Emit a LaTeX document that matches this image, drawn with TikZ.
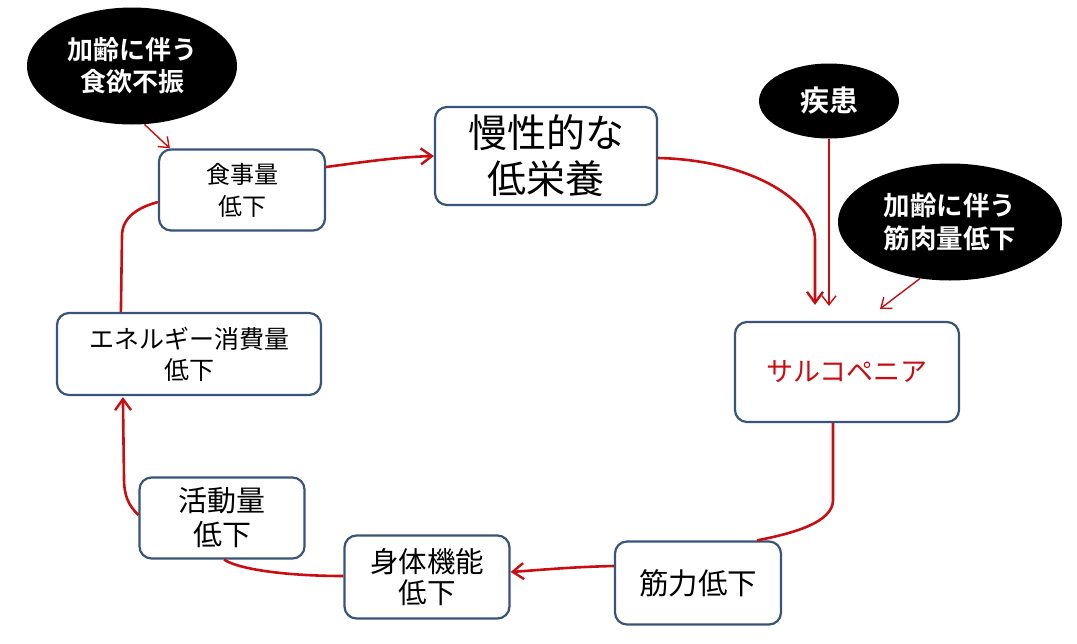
\documentclass[tikz,border=0pt]{standalone}
\usepackage{fontspec}
\setmainfont{Noto Sans CJK JP}[BoldFont={* Bold}]
\usetikzlibrary{arrows.meta,shapes.geometric,calc}
\definecolor{boxline}{RGB}{56,84,120}
\definecolor{cyclered}{RGB}{200,14,18}
\tikzset{
  boxnode/.style={draw=boxline, line width=2.2pt, rounded corners=12pt, fill=white, align=center, inner sep=0pt},
  blob/.style={ellipse, fill=black, text=white, align=center, inner sep=0pt, font=\bfseries\fontsize{26}{32}\selectfont},
  thickred/.style={draw=cyclered, line width=2.6pt},
  thinred/.style={draw=cyclered, line width=1.4pt},
  bigtip/.style={-{Straight Barb[length=11pt,width=16pt,line width=2.4pt]}},
  smalltip/.style={-{Straight Barb[length=9pt,width=14pt,line width=1.4pt]}},
}
\begin{document}
\begin{tikzpicture}[x=1pt,y=-1pt]
\useasboundingbox (0,0) rectangle (1077,643);
% nodes
\node[blob, minimum width=210pt, minimum height=117pt] (e1) at (132,66) {加齢に伴う\\食欲不振};
\node[blob, minimum width=140pt, minimum height=75pt, font=\bfseries\fontsize{29}{32}\selectfont] (shikkan) at (829,101) {疾患};
\node[blob, minimum width=224pt, minimum height=117pt, font=\bfseries\fontsize{26.5}{33}\selectfont] (kin) at (950,222) {加齢に伴う\\筋肉量低下};
\node[boxnode, minimum width=166pt, minimum height=81pt, font=\fontsize{24}{32}\selectfont] (shoku) at (242,190) {食事量\\低下};
\node[boxnode, minimum width=222pt, minimum height=98pt, font=\fontsize{39}{46}\selectfont] (man) at (546,156) {慢性的な\\低栄養};
\node[boxnode, minimum width=224pt, minimum height=100pt, text=cyclered, font=\fontsize{27}{32}\selectfont] (sarc) at (847,372) {サルコペニア};
\node[boxnode, minimum width=166pt, minimum height=83pt, font=\fontsize{29.5}{34}\selectfont] (kinryoku) at (698,583) {筋力低下};
\node[boxnode, minimum width=165pt, minimum height=83pt, font=\fontsize{28.5}{31}\selectfont] (shintai) at (427,577) {身体機能\\低下};
\node[boxnode, minimum width=165pt, minimum height=81pt, font=\fontsize{29}{34}\selectfont] (katsudo) at (222,518) {活動量\\低下};
\node[boxnode, minimum width=264pt, minimum height=82pt, font=\fontsize{25}{31}\selectfont] (ene) at (189,354) {エネルギー消費量\\低下};
% helper coordinates
\coordinate (t1) at ($(shoku.north west)+(12,0)$);
\coordinate (s2) at ($(shoku.east)+(0,-23)$);
\coordinate (s3) at ($(man.east)+(0,2)$);
\coordinate (t3) at ($(sarc.north)+(-32,-16)$);
\coordinate (t4) at ($(sarc.north)+(-18,-15)$);
\coordinate (t5) at ($(sarc.north)+(33,-12)$);
\coordinate (s6) at ($(sarc.south)+(-14,0)$);
\coordinate (t6) at ($(kinryoku.north)+(59,0)$);
\coordinate (s7) at ($(kinryoku.west)+(0,-17)$);
\coordinate (t7) at ($(shintai.east)+(0,-5)$);
\coordinate (s8) at ($(shintai.west)+(0,-1)$);
\coordinate (t8) at ($(katsudo.south)+(2,0)$);
\coordinate (s9) at ($(katsudo.west)+(0,-3)$);
\coordinate (t9) at ($(ene.south west)+(67,1)$);
\coordinate (s10) at ($(ene.north west)+(65,0)$);
\coordinate (t10) at ($(shoku.west)+(0,12)$);
% connectors
\draw[thinred, smalltip] (e1.-78) -- (t1);
\draw[thickred, bigtip] (s2) .. controls (370,161) and (400,157) .. (man.west);
\draw[thickred, bigtip] (s3) .. controls (750,160) and (815,200) .. (815,240) -- (t3);
\draw[thinred, smalltip] (shikkan.south) -- (t4);
\draw[thinred, smalltip] (kin.-118) -- (t5);
\draw[thickred] (s6) -- (833,500) .. controls (833,522) and (795,533) .. (t6);
\draw[thickred, bigtip] (s7) .. controls (570,567) and (540,570) .. (t7);
\draw[thickred] (s8) .. controls (290,576) and (240,570) .. (t8);
\draw[thickred, bigtip] (s9) .. controls (128,505) and (124,495) .. (124,478) -- (t9);
\draw[thickred] (s10) -- (122,236) .. controls (122,216) and (140,207) .. (t10);
\end{tikzpicture}
\end{document}
